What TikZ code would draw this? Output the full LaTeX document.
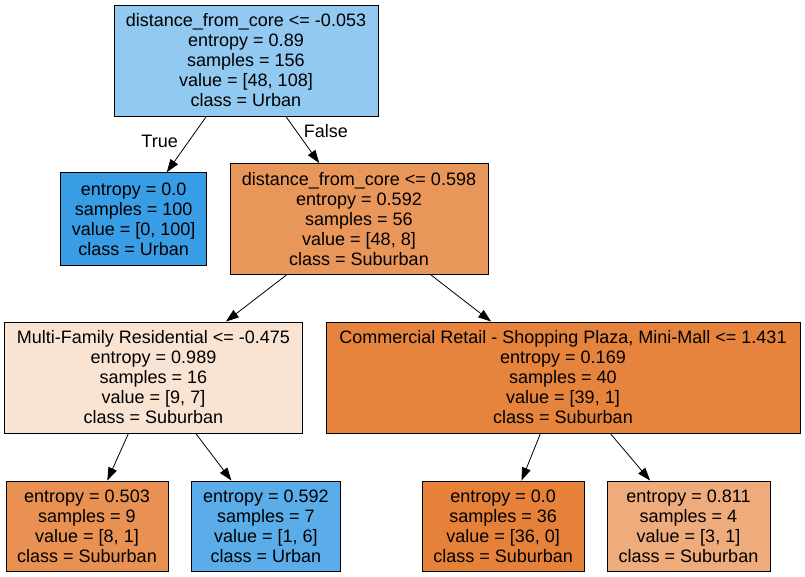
\documentclass[tikz,border=0pt]{standalone}
\usepackage{fontspec}
\setmainfont{Liberation Sans}
\usetikzlibrary{arrows.meta}
\definecolor{rootblue}{RGB}{145, 201, 241}
\definecolor{urbanblue}{RGB}{57, 157, 229}
\definecolor{midblue}{RGB}{90, 173, 233}
\definecolor{suburbanorange}{RGB}{229, 129, 57}
\definecolor{orangeA}{RGB}{233, 150, 90}
\definecolor{orangeB}{RGB}{230, 132, 62}
\definecolor{orangeC}{RGB}{232, 145, 82}
\definecolor{orangeD}{RGB}{238, 171, 123}
\definecolor{paleorange}{RGB}{249, 227, 211}
\tikzstyle{split} = [rectangle, minimum height=111pt, align=center,
                     draw=black, line width=0.8pt,
                     font=\fontsize{18}{20}\selectfont]
\tikzstyle{leaf} = [rectangle, minimum height=90pt, align=center,
                    draw=black, line width=0.8pt,
                    font=\fontsize{18}{20}\selectfont]
\tikzstyle{arrow} = [line width=0.8pt, -{Triangle[length=13pt, width=9pt]}]
\tikzstyle{edgelabel} = [font=\fontsize{18}{20}\selectfont, inner sep=0pt]

\begin{document}
\begin{tikzpicture}[node distance=158.5pt]
    \useasboundingbox (-246pt, 60.5pt) rectangle (559pt, -516.5pt);

        \node (Root) [split, minimum width=264pt, fill=rootblue]
            {distance\_from\_core <= -0.053\\entropy = 0.89\\samples = 156\\value = [48, 108]\\class = Urban};

        \node (LeafA) [leaf, below of = Root, xshift=-112.3pt, minimum width=146pt, minimum height=92.6pt, fill=urbanblue]
            {entropy = 0.0\\samples = 100\\value = [0, 100]\\class = Urban};

        \node (SplitB) [split, below of = Root, xshift=113pt, minimum width=258pt, fill=orangeA]
            {distance\_from\_core <= 0.598\\entropy = 0.592\\samples = 56\\value = [48, 8]\\class = Suburban};

        \node (SplitC) [split, below of = SplitB, xshift=-205.5pt, minimum width=298.4pt, fill=paleorange]
            {Multi-Family Residential <= -0.475\\entropy = 0.989\\samples = 16\\value = [9, 7]\\class = Suburban};

        \node (SplitD) [split, below of = SplitB, xshift=204pt, minimum width=474pt, fill=orangeB]
            {Commercial Retail - Shopping Plaza, Mini-Mall <= 1.431\\entropy = 0.169\\samples = 40\\value = [39, 1]\\class = Suburban};

        \node (LeafE) [leaf, below of = SplitC, xshift=-66.5pt, yshift=10pt, minimum width=162pt, fill=orangeC]
            {entropy = 0.503\\samples = 9\\value = [8, 1]\\class = Suburban};

        \node (LeafF) [leaf, below of = SplitC, xshift=112.3pt, yshift=10pt, minimum width=148.3pt, fill=midblue]
            {entropy = 0.592\\samples = 7\\value = [1, 6]\\class = Urban};

        \node (LeafG) [leaf, below of = SplitD, xshift=-59.8pt, yshift=10pt, minimum width=161.7pt, fill=suburbanorange]
            {entropy = 0.0\\samples = 36\\value = [36, 0]\\class = Suburban};

        \node (LeafH) [leaf, below of = SplitD, xshift=125.5pt, yshift=10pt, minimum width=163pt, fill=orangeD]
            {entropy = 0.811\\samples = 4\\value = [3, 1]\\class = Suburban};

        \draw [arrow] (Root) -- node[edgelabel, anchor=east, xshift=-8.4pt, yshift=2.9pt] (TrueLabel) {True} (LeafA);
        \draw [arrow] (Root) -- node[edgelabel, anchor=west, xshift=1pt, yshift=8.3pt] (FalseLabel) {False} (SplitB);
        \draw [arrow] (SplitB) -- (SplitC);
        \draw [arrow] (SplitB) -- (SplitD);
        \draw [arrow] (SplitC) -- (LeafE);
        \draw [arrow] (SplitC) -- (LeafF);
        \draw [arrow] (SplitD) -- (LeafG);
        \draw [arrow] (SplitD) -- (LeafH);

    \end{tikzpicture}
\end{document}
